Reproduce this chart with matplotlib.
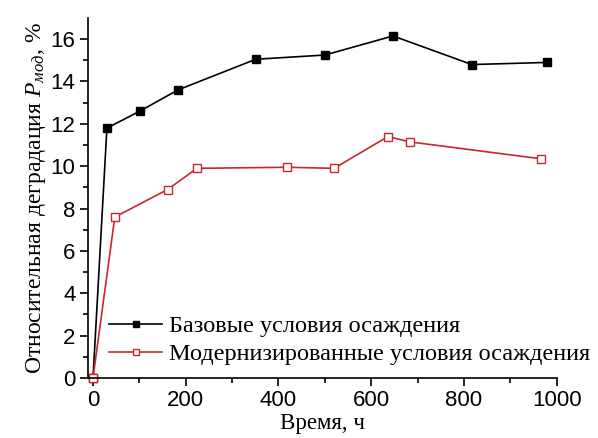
import matplotlib.pyplot as plt
import numpy as np

plt.rcParams['mathtext.fontset'] = 'custom'
plt.rcParams['mathtext.rm'] = 'Liberation Serif'
plt.rcParams['mathtext.it'] = 'Liberation Serif:italic'

t_base = [0, 30, 101, 183, 351, 500, 647, 817, 979]
p_base = [0, 11.8, 12.6, 13.6, 15.05, 15.25, 16.15, 14.8, 14.9]
t_mod = [0, 47, 161, 224, 418, 520, 636, 683, 966]
p_mod = [0, 7.6, 8.9, 9.9, 9.95, 9.9, 11.4, 11.15, 10.35]

fig = plt.figure(figsize=(5.98, 4.38), dpi=100)
ax = fig.add_axes([0.147, 0.137, 0.784, 0.822])

ax.plot(t_base, p_base, color='black', marker='s', ms=6, lw=1.2,
        label='Базовые условия осаждения', clip_on=False)
ax.plot(t_mod, p_mod, color='#c8282d', marker='s', ms=6, lw=1.2, mfc='white',
        label='Модернизированные условия осаждения', clip_on=False)

ax.set_xlim(-11, 1000)
ax.set_ylim(0, 17)
ax.set_xticks(np.arange(0, 1001, 200))
ax.set_xticks(np.arange(100, 1000, 200), minor=True)
ax.set_yticks(np.arange(0, 17, 2))
ax.set_yticks(np.arange(1, 17, 2), minor=True)
ax.spines['top'].set_visible(False)
ax.spines['right'].set_visible(False)
ax.spines['left'].set_linewidth(1.2)
ax.spines['bottom'].set_linewidth(1.2)
ax.tick_params(which='major', direction='out', length=6, width=1.2, labelsize=16, pad=3)
ax.tick_params(which='minor', direction='out', length=3.5, width=1.2)
for lab in ax.get_xticklabels() + ax.get_yticklabels():
    lab.set_fontfamily('Liberation Sans')

ax.set_xlabel('Время, ч', family='Liberation Serif', fontsize=16.5, labelpad=1)
ax.set_ylabel('Относительная деградация $\\mathit{P}_{\\mathit{мод}}$, %',
              family='Liberation Serif', fontsize=17, labelpad=2)

ax.legend(loc='lower left', bbox_to_anchor=(0.045, 0.035), frameon=False,
          prop={'family': 'Liberation Serif', 'size': 17.5}, markerscale=0.65,
          handlelength=2.2, handletextpad=0.25, labelspacing=0.25,
          borderpad=0, borderaxespad=0)

plt.savefig('out.png')
